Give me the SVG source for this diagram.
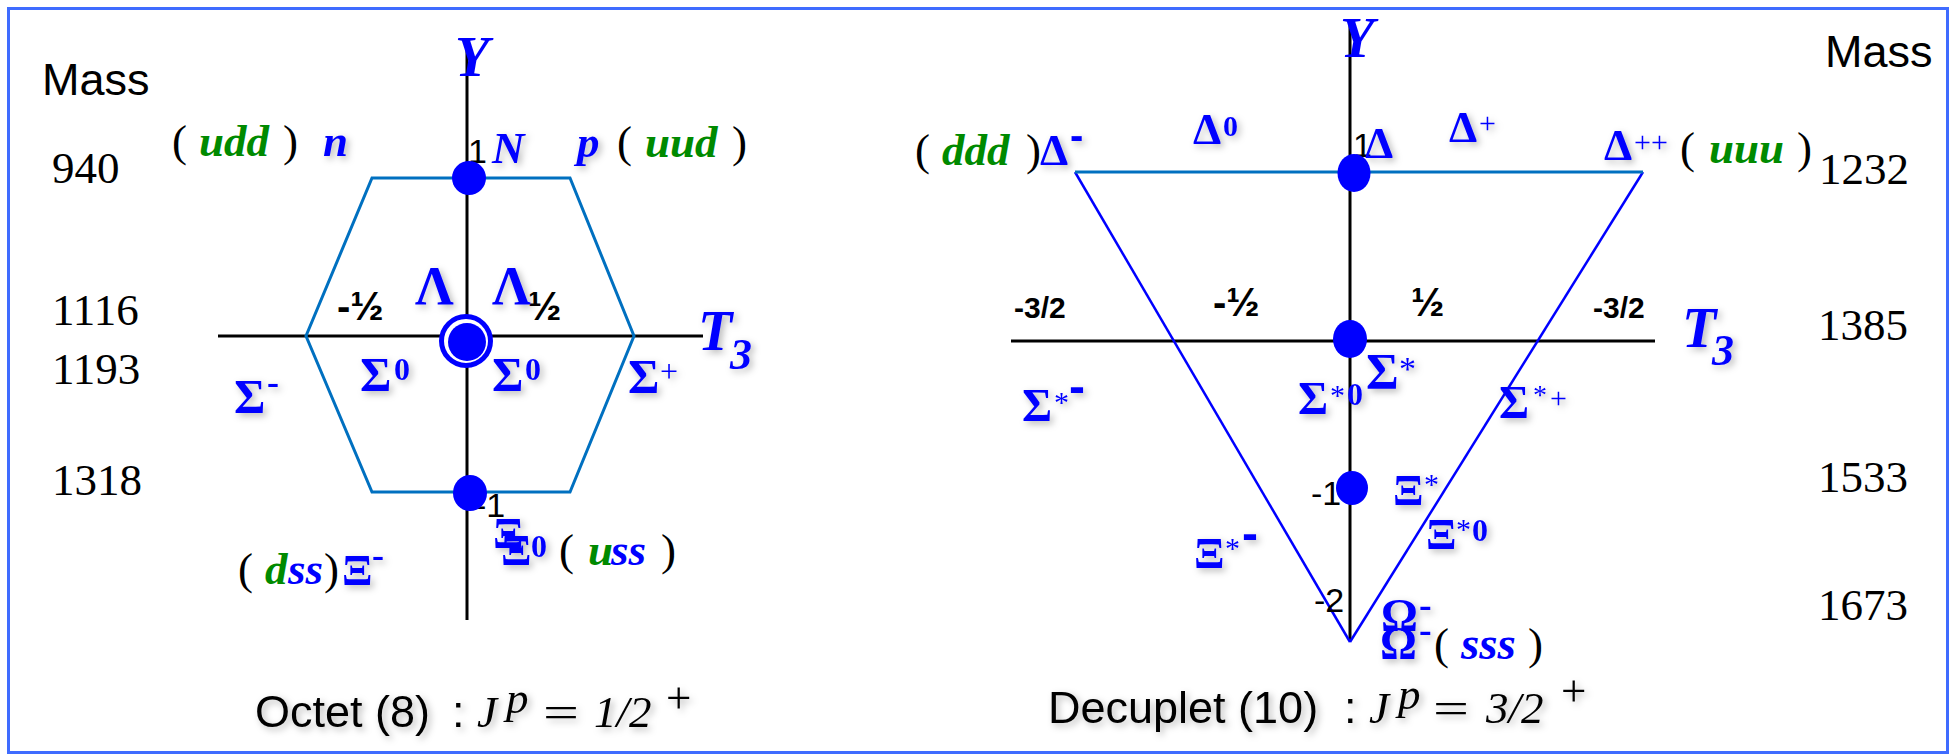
<svg xmlns="http://www.w3.org/2000/svg" width="1953" height="755" viewBox="0 0 1953 755">
<defs>
<filter id="sh" x="-40%" y="-40%" width="180%" height="180%">
<feGaussianBlur in="SourceAlpha" stdDeviation="3.5"/>
<feOffset dx="3" dy="3" result="o"/>
<feFlood flood-color="#000" flood-opacity="0.28"/>
<feComposite in2="o" operator="in"/>
<feMerge><feMergeNode/><feMergeNode in="SourceGraphic"/></feMerge>
</filter>
<style>
.k{fill:#000;}
.bl{fill:#0000FF;font-weight:bold;font-family:"Liberation Serif","Times New Roman",serif;}
.bi{fill:#0000FF;font-weight:bold;font-style:italic;font-family:"Liberation Serif","Times New Roman",serif;}
.gi{fill:#008A00;font-weight:bold;font-style:italic;font-family:"Liberation Serif","Times New Roman",serif;}
.m{font-family:"Liberation Serif","Times New Roman",serif;font-size:45px;fill:#000;}
.ms{font-family:"Liberation Sans",Arial,sans-serif;font-size:45px;fill:#000;}
.ax{stroke:#000;stroke-width:3;fill:none;}
.hex{stroke:#0070C0;stroke-width:3;fill:none;}
.tri{stroke:#0000FF;stroke-width:2.5;fill:none;}
.dot{fill:#0000FF;}
.sh{filter:url(#sh);}
.fr{font-family:"Liberation Sans",Arial,sans-serif;font-size:34px;fill:#000;}
.hf{font-family:"Liberation Sans",Arial,sans-serif;font-size:40px;font-weight:bold;fill:#000;}
.frb{font-family:"Liberation Sans",Arial,sans-serif;font-size:30px;font-weight:bold;fill:#000;}
.bar{font-family:"Liberation Sans",Arial,sans-serif;font-weight:bold;fill:#0000FF;}
</style>
</defs>
<rect x="0" y="0" width="1953" height="755" fill="#fff"/>
<rect x="8.5" y="8.5" width="1939" height="744" fill="none" stroke="#3F6CFF" stroke-width="3"/>

<g id="connectors">
<line class="ax" x1="467" y1="45" x2="467" y2="620"/>
<line class="ax" x1="218" y1="336" x2="703" y2="336"/>
<polygon class="hex" points="372,178 570,178 634,336 570,492 372,492 306,336"/>
<line class="ax" x1="1350" y1="25" x2="1350" y2="641"/>
<line class="ax" x1="1011" y1="341" x2="1655" y2="341"/>
<line class="tri" x1="1075" y1="172" x2="1350" y2="642"/>
<line class="tri" x1="1643" y1="172" x2="1350" y2="642"/>
<line x1="1075" y1="172" x2="1643" y2="172" stroke="#0070C0" stroke-width="3"/>
</g>

<g id="octet-axes-labels">
<text class="ms" x="42" y="95">Mass</text>
<text class="m" x="52" y="183">940</text>
<text class="m" x="52" y="325">1116</text>
<text class="m" x="52" y="384">1193</text>
<text class="m" x="52" y="495">1318</text>
<text class="bi" x="455" y="76" font-size="56">Y</text>
<g class="bi sh"><text x="698" y="350" font-size="56">T</text><text x="730" y="369" font-size="44">3</text></g>
<text class="hf" x="337" y="320">-½</text>
<text class="hf" x="528" y="320">½</text>
<text class="fr" x="468" y="163">1</text>
<text class="fr" x="475" y="517" font-size="30">-1</text>
</g>

<g id="octet-n">
<text class="m" x="172" y="156">(</text>
<text class="gi" x="199" y="156" font-size="45">udd</text>
<text class="m" x="283" y="156">)</text>
<text class="bi sh" x="323" y="156" font-size="45">n</text>
</g>
<g id="octet-N">
<ellipse class="dot" cx="469" cy="178" rx="17" ry="17"/>
<text class="bi sh" x="492" y="163" font-size="45">N</text>
</g>
<g id="octet-p">
<text class="bi sh" x="577" y="157" font-size="45">p</text>
<text class="m" x="617" y="157">(</text>
<text class="gi" x="645" y="157" font-size="45">uud</text>
<text class="m" x="732" y="157">)</text>
</g>
<g id="octet-lambda-sigma0">
<circle cx="466" cy="341" r="24.5" fill="#fff" stroke="#0000FF" stroke-width="5"/>
<circle class="dot" cx="467" cy="342" r="19"/>
<text class="bl sh" x="415" y="304" font-size="54">Λ</text>
<text class="bl sh" x="492" y="304" font-size="54">Λ</text>
<g class="bl sh"><text x="360" y="391" font-size="48">Σ</text><text x="394" y="380" font-size="32">0</text></g>
<g class="bl sh"><text x="492" y="391" font-size="48">Σ</text><text x="525" y="380" font-size="32">0</text></g>
</g>
<g id="octet-sigma-minus">
<g class="bl sh"><text x="234" y="413" font-size="48">Σ</text><text x="267" y="394" font-size="36">-</text></g>
</g>
<g id="octet-sigma-plus">
<g class="bl sh"><text x="628" y="393" font-size="48">Σ</text><text x="660" y="382" font-size="32" font-weight="normal">+</text></g>
</g>
<g id="octet-xi0">
<ellipse class="dot" cx="470" cy="493" rx="17" ry="18"/>
<g class="bl sh"><text x="493" y="548" font-size="45">Ξ</text><text x="501" y="565" font-size="45">Ξ</text><text x="531" y="557" font-size="32">0</text></g>
<text class="m" x="559" y="565">(</text>
<text class="gi" x="588" y="565" font-size="45">u</text>
<text class="bi" x="611" y="565" font-size="45">ss</text>
<text class="m" x="661" y="565">)</text>
</g>
<g id="octet-xi-minus">
<text class="m" x="238" y="584">(</text>
<text class="gi" x="265" y="584" font-size="45">d</text>
<text class="bi" x="288" y="584" font-size="45">ss</text>
<text class="m" x="324" y="584">)</text>
<g class="bl sh"><text x="342" y="585" font-size="45">Ξ</text><text x="372" y="567" font-size="36">-</text></g>
</g>
<g id="octet-title" class="sh">
<text class="ms" x="255" y="727">Octet (8)</text>
<text class="ms" x="452" y="727">:</text>
<text class="m" x="477" y="727" font-style="italic">J</text>
<text class="m" x="506" y="713" font-size="32" font-style="italic">p</text>
<text class="m" x="543" y="727" textLength="36" lengthAdjust="spacingAndGlyphs">=</text>
<text class="m" x="594" y="727" font-style="italic" font-size="48">1/2</text>
<text class="m" x="666" y="713" font-size="34">+</text>
</g>

<g id="decuplet-axes-labels">
<text class="ms" x="1825" y="67">Mass</text>
<text class="m" x="1819" y="184">1232</text>
<text class="m" x="1818" y="340">1385</text>
<text class="m" x="1818" y="492">1533</text>
<text class="m" x="1818" y="620">1673</text>
<text class="bi" x="1340" y="57" font-size="56">Y</text>
<g class="bi sh"><text x="1682" y="347" font-size="56">T</text><text x="1712" y="365" font-size="44">3</text></g>
<text class="frb" x="1014" y="318">-3/2</text>
<text class="hf" x="1213" y="316">-½</text>
<text class="hf" x="1411" y="316">½</text>
<text class="frb" x="1593" y="318">-3/2</text>
<text class="fr" x="1353" y="157">1</text>
<text class="fr" x="1311" y="505">-1</text>
<text class="fr" x="1314" y="612" font-size="36">-2</text>
</g>

<g id="dec-delta-minus">
<text class="m" x="915" y="165">(</text>
<text class="gi" x="942" y="165" font-size="45">ddd</text>
<text class="m" x="1026" y="165">)</text>
<g class="bl sh"><text x="1040" y="165" font-size="45">Δ</text><text class="bar" x="1070" y="149" font-size="40">-</text></g>
</g>
<g id="dec-delta0">
<g class="bl sh"><text x="1193" y="144" font-size="45">Δ</text><text x="1223" y="136" font-size="30">0</text></g>
</g>
<g id="dec-delta">
<ellipse class="dot" cx="1354" cy="173" rx="16.5" ry="19"/>
<g class="bl sh"><text x="1365" y="158" font-size="45">Δ</text></g>
</g>
<g id="dec-delta-plus">
<g class="bl sh"><text x="1449" y="142" font-size="45">Δ</text><text x="1479" y="133" font-size="30" font-weight="normal">+</text></g>
</g>
<g id="dec-delta-pp">
<g class="bl sh"><text x="1604" y="160" font-size="45">Δ</text><text x="1634" y="152" font-size="30" font-weight="normal">++</text></g>
<text class="m" x="1680" y="163">(</text>
<text class="gi" x="1709" y="163" font-size="45">uuu</text>
<text class="m" x="1797" y="163">)</text>
</g>
<g id="dec-sigma-minus">
<g class="bl sh"><text x="1022" y="421" font-size="46">Σ</text><text x="1054" y="412" font-size="30" font-weight="normal">*</text><text class="bar" x="1069" y="403" font-size="48">-</text></g>
</g>
<g id="dec-sigma">
<ellipse class="dot" cx="1350" cy="339" rx="17" ry="19"/>
<g class="bl sh"><text x="1298" y="414" font-size="46">Σ</text><text x="1330" y="405" font-size="30" font-weight="normal">*</text><text x="1347" y="405" font-size="32">0</text></g>
<g class="bl sh"><text x="1366" y="388" font-size="50">Σ</text><text x="1399" y="380" font-size="34" font-weight="normal">*</text></g>
</g>
<g id="dec-sigma-plus">
<g class="bl sh"><text x="1499" y="418" font-size="46">Σ</text><text x="1533" y="404" font-size="28" font-weight="normal">*</text><text x="1550" y="408" font-size="30" font-weight="normal">+</text></g>
</g>
<g id="dec-xi">
<ellipse class="dot" cx="1352" cy="488" rx="16" ry="17"/>
<g class="bl sh"><text x="1393" y="505" font-size="45">Ξ</text><text x="1424" y="494" font-size="30" font-weight="normal">*</text></g>
</g>
<g id="dec-xi0">
<g class="bl sh"><text x="1426" y="549" font-size="45">Ξ</text><text x="1456" y="539" font-size="30" font-weight="normal">*</text><text x="1472" y="541" font-size="32">0</text></g>
</g>
<g id="dec-xi-minus">
<g class="bl sh"><text x="1194" y="568" font-size="45">Ξ</text><text x="1225" y="558" font-size="30" font-weight="normal">*</text><text class="bar" x="1242" y="550" font-size="48">-</text></g>
</g>
<g id="dec-omega">
<g class="bl sh"><text x="1381" y="631" font-size="46">Ω</text><text x="1419" y="617" font-size="38">-</text></g>
<g class="bl sh"><text x="1380" y="659" font-size="46">Ω</text><text x="1419" y="642" font-size="38">-</text></g>
<text class="m" x="1434" y="659" font-size="48">(</text>
<text class="bi" x="1461" y="659" font-size="47">sss</text>
<text class="m" x="1528" y="659" font-size="48">)</text>
</g>
<g id="decuplet-title" class="sh">
<text class="ms" x="1048" y="723">Decuplet (10)</text>
<text class="ms" x="1344" y="723">:</text>
<text class="m" x="1369" y="723" font-style="italic">J</text>
<text class="m" x="1398" y="709" font-size="32" font-style="italic">p</text>
<text class="m" x="1433" y="723" textLength="36" lengthAdjust="spacingAndGlyphs">=</text>
<text class="m" x="1486" y="723" font-style="italic" font-size="48">3/2</text>
<text class="m" x="1561" y="706" font-size="34">+</text>
</g>
</svg>
